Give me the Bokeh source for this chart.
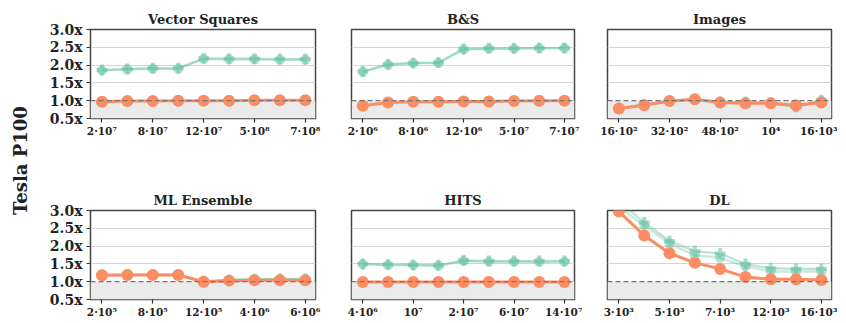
import numpy as np
from bokeh.plotting import figure
from bokeh.layouts import row, column
from bokeh.models import BoxAnnotation, Span, FixedTicker, Label, PrintfTickFormatter
from bokeh.embed import file_html
from bokeh.resources import INLINE

# ---------------- data ----------------
titles = ["Vector Squares", "B&S", "Images", "ML Ensemble", "HITS", "DL"]
x_index = [0, 1, 2, 3, 4, 5, 6, 7, 8]
tick_positions = [0, 2, 4, 6, 8]
tick_labels = [
    ["2·10⁷", "8·10⁷", "12·10⁷", "5·10⁸", "7·10⁸"],
    ["2·10⁶", "8·10⁶", "12·10⁶", "5·10⁷", "7·10⁷"],
    ["16·10²", "32·10²", "48·10²", "10⁴", "16·10³"],
    ["2·10⁵", "8·10⁵", "12·10⁵", "4·10⁶", "6·10⁶"],
    ["4·10⁶", "10⁷", "2·10⁷", "6·10⁷", "14·10⁷"],
    ["3·10³", "5·10³", "7·10³", "12·10³", "16·10³"],
]
y_ticks = [0.5, 1.0, 1.5, 2.0, 2.5, 3.0]
grid_ticks = [1.5, 2.0, 2.5]

orange = [
    [0.97, 0.99, 0.99, 1.00, 1.00, 1.00, 1.01, 1.01, 1.01],
    [0.86, 0.95, 0.97, 0.97, 0.98, 0.98, 0.99, 1.00, 1.00],
    [0.78, 0.87, 0.99, 1.04, 0.95, 0.93, 0.93, 0.87, 0.95],
    [1.18, 1.19, 1.19, 1.19, 1.00, 1.03, 1.04, 1.04, 1.04],
    [0.99, 0.99, 0.99, 0.99, 0.99, 0.99, 0.99, 0.99, 0.99],
    [2.97, 2.30, 1.80, 1.53, 1.36, 1.13, 1.07, 1.07, 1.05],
]
green = [
    [1.85, 1.88, 1.90, 1.90, 2.17, 2.16, 2.16, 2.15, 2.15],
    [1.81, 2.01, 2.05, 2.06, 2.44, 2.46, 2.46, 2.47, 2.47],
    [0.78, 0.88, 0.98, 1.03, 0.95, 0.95, 0.93, 0.82, 1.00],
    [1.18, 1.19, 1.19, 1.19, 1.00, 1.04, 1.06, 1.07, 1.07],
    [1.49, 1.47, 1.46, 1.45, 1.58, 1.56, 1.56, 1.56, 1.56],
    [3.10, 2.58, 2.07, 1.74, 1.67, 1.43, 1.29, 1.29, 1.29],
]
teal = [
    [1.86, 1.89, 1.91, 1.91, 2.19, 2.18, 2.18, 2.17, 2.17],
    [1.82, 2.02, 2.06, 2.07, 2.45, 2.47, 2.47, 2.48, 2.48],
    [0.79, 0.89, 0.99, 1.04, 0.96, 0.96, 0.94, 0.83, 1.01],
    [1.19, 1.20, 1.20, 1.20, 1.01, 1.05, 1.07, 1.08, 1.08],
    [1.50, 1.48, 1.47, 1.46, 1.60, 1.58, 1.58, 1.58, 1.58],
    [3.25, 2.67, 2.14, 1.86, 1.79, 1.50, 1.38, 1.36, 1.36],
]

# ---------------- style ----------------
FONT = "DejaVu Serif"
ORANGE = "#fc8d62"
GREEN = "#66c2a5"

frame_w = [225, 223, 224]
border_l = [52, 26, 25]
border_r = [10, 8, 6]


def make_panel(i):
    r, c = divmod(i, 3)
    p = figure(
        frame_width=frame_w[c], frame_height=89,
        x_range=(-0.45, 8.4), y_range=(0.5, 3.0),
        toolbar_location=None, output_backend="svg",
        min_border_left=border_l[c], min_border_right=border_r[c],
        min_border_top=29 if r == 0 else 21, min_border_bottom=69 if r == 0 else 17,
        title=titles[i],
    )
    p.title.align = "center"
    p.title.text_font = FONT
    p.title.text_font_style = "bold"
    p.title.text_font_size = "13px"
    p.title.text_color = "#222"
    p.title.standoff = 6
    p.title.offset = 0

    p.outline_line_color = "#444"
    p.outline_line_width = 1.5
    p.background_fill_color = "white"
    p.border_fill_color = "white"

    p.add_layout(BoxAnnotation(top=1.0, fill_color="#ebebeb", fill_alpha=1.0,
                               line_color=None, level="underlay"))

    p.xgrid.visible = False
    p.ygrid.ticker = FixedTicker(ticks=grid_ticks)
    p.ygrid.grid_line_color = "#d4d4d4"
    p.ygrid.grid_line_width = 1.2

    p.xaxis.ticker = FixedTicker(ticks=tick_positions)
    p.xaxis.major_label_overrides = {t: l for t, l in zip(tick_positions, tick_labels[i])}
    p.xaxis.axis_line_color = None
    p.xaxis.major_tick_out = 4
    p.xaxis.major_tick_in = 0
    p.xaxis.major_tick_line_color = "#333"
    p.xaxis.major_tick_line_width = 1.2
    p.xaxis.minor_tick_line_color = None
    p.xaxis.major_label_standoff = 2
    p.xaxis.major_label_text_font = FONT
    p.xaxis.major_label_text_font_style = "bold"
    p.xaxis.major_label_text_font_size = "10.5px"
    p.xaxis.major_label_text_color = "#222"

    if c == 0:
        p.yaxis.ticker = FixedTicker(ticks=y_ticks)
        p.yaxis.formatter = PrintfTickFormatter(format="%.1fx")
        p.yaxis.axis_line_color = None
        p.yaxis.major_tick_out = 4
        p.yaxis.major_tick_in = 0
        p.yaxis.major_tick_line_color = "#333"
        p.yaxis.major_tick_line_width = 1.2
        p.yaxis.minor_tick_line_color = None
        p.yaxis.major_label_standoff = 4
        p.yaxis.major_label_text_font = FONT
        p.yaxis.major_label_text_font_style = "bold"
        p.yaxis.major_label_text_font_size = "14px"
        p.yaxis.major_label_text_color = "#222"
    else:
        p.yaxis.visible = False

    p.add_layout(Span(location=1.0, dimension="width", line_color="#777",
                      line_dash="5 3", line_width=1.2))

    # green circles series
    p.line(x_index, green[i], line_color=GREEN, line_width=2.5, line_alpha=0.35)
    p.scatter(x_index, green[i], marker="circle", size=10, fill_color=GREEN,
              fill_alpha=0.5, line_color=None)
    # teal plus series
    p.line(x_index, teal[i], line_color=GREEN, line_width=2.2, line_alpha=0.45)
    p.scatter(x_index, teal[i], marker="plus", size=11, fill_color=GREEN,
              fill_alpha=0.55, line_color=None)
    # orange series
    p.line(x_index, orange[i], line_color=ORANGE, line_width=3)
    p.scatter(x_index, orange[i], marker="circle", size=12, fill_color=ORANGE,
              line_color=None)
    return p


panels = [make_panel(i) for i in range(6)]

lab = figure(width=38, height=314, x_range=(0, 1), y_range=(0, 1),
             toolbar_location=None, output_backend="svg", min_border=0)
lab.axis.visible = False
lab.grid.visible = False
lab.outline_line_color = None
lab.add_layout(Label(x=0.52, y=0.49, text="Tesla P100", angle=np.pi / 2,
                     text_align="center", text_baseline="middle",
                     text_font=FONT, text_font_style="bold",
                     text_font_size="18px", text_color="#222"))

layout = row(lab, column(row(*panels[:3]), row(*panels[3:])))

open("out.html", "w").write(file_html(layout, INLINE))
